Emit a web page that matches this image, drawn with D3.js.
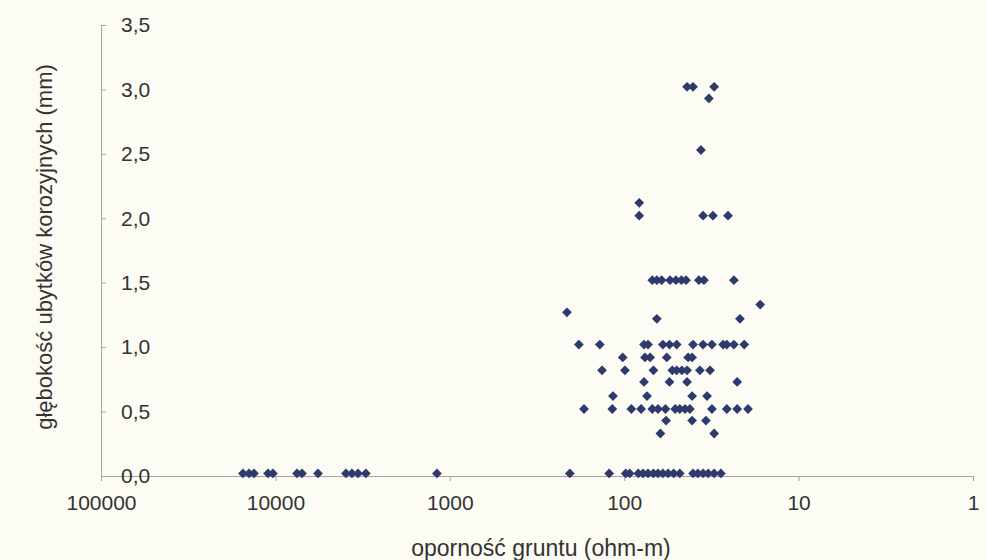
<!DOCTYPE html>
<html lang="pl">
<head>
<meta charset="UTF-8">
<title>oporność gruntu</title>
<script src="https://d3js.org/d3.v7.min.js"></script>
<style>
  body { margin: 0; background: #fcfcf4; }
  svg { display: block; }
  text { font-family: "Liberation Sans", Arial, sans-serif; fill: #333; }
</style>
</head>
<body>
<div id="chart"></div>
<script>
// soil resistivity (ohm-m) and corrosion depth (mm)
const resistivity = [
  15350, 14170, 13270, 11020, 10330, 7520, 7040, 5700, 3940, 3640, 3360, 3030, 1185,
  43.6, 40.3, 30.5,
  32.7,
  36.3,
  82,
  82, 35.3, 31, 25.4,
  69, 65, 61, 54.6, 50.5, 47, 44.2, 37.3, 34.9, 23.5,
  16.6,
  213,
  65, 21.7,
  182, 138, 77, 73, 60, 55, 50, 40.3, 35.3, 31.4, 27.1, 25.8, 23.5, 20.5,
  102, 76, 71, 57, 43, 40.8,
  134, 99, 68, 53, 50, 46.7, 43.6, 36.8, 32.2,
  77, 55, 43.6, 22.5,
  116, 74, 40.8, 33.5,
  170, 117, 91, 80, 69, 64, 58, 51, 48, 44.8, 42, 31.4, 25.8, 22.5, 19.5,
  57.5, 40.8, 34,
  62, 30.5,
  205, 122, 98, 93, 83, 78, 73, 68, 64, 60, 56, 52, 48, 40.3, 37.8, 35.3, 33, 30.5, 27.9
];
const depth = [
  0.02, 0.02, 0.02, 0.02, 0.02, 0.02, 0.02, 0.02, 0.02, 0.02, 0.02, 0.02, 0.02,
  3.02, 3.02, 3.02,
  2.93,
  2.53,
  2.12,
  2.02, 2.02, 2.02, 2.02,
  1.52, 1.52, 1.52, 1.52, 1.52, 1.52, 1.52, 1.52, 1.52, 1.52,
  1.33,
  1.27,
  1.22, 1.22,
  1.02, 1.02, 1.02, 1.02, 1.02, 1.02, 1.02, 1.02, 1.02, 1.02, 1.02, 1.02, 1.02, 1.02,
  0.92, 0.92, 0.92, 0.92, 0.92, 0.92,
  0.82, 0.82, 0.82, 0.82, 0.82, 0.82, 0.82, 0.82, 0.82,
  0.73, 0.73, 0.73, 0.73,
  0.62, 0.62, 0.62, 0.62,
  0.52, 0.52, 0.52, 0.52, 0.52, 0.52, 0.52, 0.52, 0.52, 0.52, 0.52, 0.52, 0.52, 0.52, 0.52,
  0.43, 0.43, 0.43,
  0.33, 0.33,
  0.02, 0.02, 0.02, 0.02, 0.02, 0.02, 0.02, 0.02, 0.02, 0.02, 0.02, 0.02, 0.02, 0.02, 0.02, 0.02, 0.02, 0.02, 0.02
];
const xTicks = [100000, 10000, 1000, 100, 10, 1];
const yTicks = [0, 0.5, 1, 1.5, 2, 2.5, 3, 3.5];

const width = 986;
const height = 560;
const margin = { top: 25, right: 13, bottom: 84, left: 101 };

const points = resistivity.map((r, i) => ({ r: r, d: depth[i] }));

const svg = d3.select('#chart')
  .append('svg')
  .attr('width', width)
  .attr('height', height);

// reversed log axis: high resistivity on the left
const x = d3.scaleLog()
  .domain([100000, 1])
  .range([margin.left, width - margin.right]);

const y = d3.scaleLinear()
  .domain([0, 3.5])
  .range([height - margin.bottom, margin.top]);

const xAxis = svg.append('g')
  .attr('transform', `translate(0,${height - margin.bottom})`)
  .call(d3.axisBottom(x).tickValues(xTicks).tickFormat(d3.format('d')).tickSizeInner(5).tickSizeOuter(0).tickPadding(14));

const yAxis = svg.append('g')
  .attr('transform', `translate(${margin.left},0)`)
  .call(d3.axisRight(y).tickValues(yTicks).tickFormat(d => d.toFixed(1).replace('.', ',')).tickSizeInner(5).tickSizeOuter(0).tickPadding(15));

[xAxis, yAxis].forEach(g => {
  g.select('.domain').attr('stroke', '#a3a3a3');
  g.selectAll('.tick line').attr('stroke', '#a3a3a3');
  g.selectAll('.tick text')
    .attr('font-size', 21)
    .attr('font-family', '"Liberation Sans", Arial, sans-serif')
    .attr('fill', '#363636');
});

const diamond = {
  draw(ctx, size) {
    const r = Math.sqrt(size / 2);
    ctx.moveTo(0, -r);
    ctx.lineTo(r, 0);
    ctx.lineTo(0, r);
    ctx.lineTo(-r, 0);
    ctx.closePath();
  }
};

svg.append('g')
  .selectAll('path')
  .data(points)
  .join('path')
  .attr('d', d3.symbol().type(diamond).size(48))
  .attr('transform', d => `translate(${x(d.r)},${y(d.d)})`)
  .attr('fill', '#2f3a6c');

// axis titles
svg.append('text')
  .attr('x', 541)
  .attr('y', 556)
  .attr('text-anchor', 'middle')
  .attr('font-size', 23)
  .text('oporność gruntu (ohm-m)');

svg.append('text')
  .attr('transform', 'translate(52,247) rotate(-90)')
  .attr('text-anchor', 'middle')
  .attr('font-size', 22)
  .text('głębokość ubytków korozyjnych (mm)');
</script>
</body>
</html>
